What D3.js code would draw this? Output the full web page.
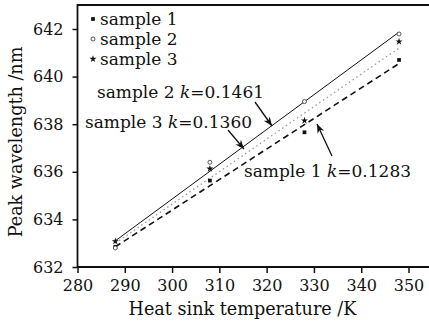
<!DOCTYPE html>
<html>
<head>
<meta charset="utf-8">
<script src="https://cdn.jsdelivr.net/npm/d3@7"></script>
<style>
  body { margin: 0; background: #fff; }
  svg { display: block; }
  svg text { font-family: "DejaVu Serif", serif !important; fill: #111; }
</style>
</head>
<body>
<svg width="429" height="324"></svg>
<script>
var temps = [288, 308, 328, 348]
var sample1 = [632.85, 635.63, 637.66, 640.7]
var sample2 = [632.8, 636.4, 638.95, 641.79]
var sample3 = [633.08, 636.13, 638.15, 641.47]

// fitted lines, read at the ends (288 K, 348 K)
var fitEnds = [288, 348]
var fit1 = [632.85, 640.55]
var fit2 = [633.1, 641.87]
var fit3 = [633.0, 641.2]

var xTicks = [280, 290, 300, 310, 320, 330, 340, 350]
var yTicks = [632, 634, 636, 638, 640, 642]
var legendNames = ['sample 1', 'sample 2', 'sample 3']

var svg = d3.select('svg')
var fs = '16px'
var fsBig = '17.6px'

var x = d3.scaleLinear().domain([280, 350]).range([77.5, 408.5])
var y = d3.scaleLinear().domain([632, 642]).range([267, 29])

// frame: left, top, bottom
svg.append('path')
  .attr('d', 'M429,5H77.5V267H429')
  .style('fill', 'none')
  .style('stroke', '#111')
  .style('stroke-width', 1.8)

var xAxis = svg.append('g')
  .attr('transform', 'translate(0,267)')
  .call(d3.axisBottom(x).tickValues(xTicks).tickSize(6).tickPadding(7))
xAxis.attr('font-family', null).attr('font-size', null)
xAxis.select('.domain').remove()
xAxis.selectAll('line').style('stroke', '#111').style('stroke-width', 1.5)
xAxis.selectAll('text').style('font-size', fs).style('fill', '#111')

var yAxis = svg.append('g')
  .attr('transform', 'translate(77.5,0)')
  .call(d3.axisLeft(y).tickValues(yTicks).tickSize(5).tickPadding(9))
yAxis.attr('font-family', null).attr('font-size', null)
yAxis.select('.domain').remove()
yAxis.selectAll('line').style('stroke', '#111').style('stroke-width', 1.5)
yAxis.selectAll('text').style('font-size', fs).style('fill', '#111')

svg.append('text')
  .attr('x', 242.5)
  .attr('y', 315)
  .attr('text-anchor', 'middle')
  .style('font-size', fsBig)
  .text('Heat sink temperature /K')

svg.append('text')
  .attr('transform', 'translate(22,142) rotate(-90)')
  .attr('text-anchor', 'middle')
  .style('font-size', fsBig)
  .text('Peak wavelength /nm')

// fit lines
var line = d3.line()
  .x((d, i) => x(fitEnds[i]))
  .y((d) => y(d))

svg.append('path').datum(fit3)
  .attr('d', line)
  .style('fill', 'none').style('stroke', '#999').style('stroke-width', 1.3)
  .style('stroke-dasharray', '1.5,3')
svg.append('path').datum(fit1)
  .attr('d', line)
  .style('fill', 'none').style('stroke', '#111').style('stroke-width', 1.6)
  .style('stroke-dasharray', '6,4')
svg.append('path').datum(fit2)
  .attr('d', line)
  .style('fill', 'none').style('stroke', '#111').style('stroke-width', 1)

// markers
var square = d3.symbol().type(d3.symbolSquare).size(14)
var star = d3.symbol().type(d3.symbolStar).size(16)

svg.selectAll('.s1').data(sample1).enter().append('path')
  .attr('class', 's1')
  .attr('transform', (d, i) => 'translate(' + x(temps[i]) + ',' + y(d) + ')')
  .attr('d', square)
  .style('fill', '#111')

svg.selectAll('.s2').data(sample2).enter().append('circle')
  .attr('class', 's2')
  .attr('cx', (d, i) => x(temps[i]))
  .attr('cy', (d) => y(d))
  .attr('r', 2)
  .style('fill', '#fff')
  .style('stroke', '#444')
  .style('stroke-width', 0.9)

svg.selectAll('.s3').data(sample3).enter().append('path')
  .attr('class', 's3')
  .attr('transform', (d, i) => 'translate(' + x(temps[i]) + ',' + y(d) + ')')
  .attr('d', star)
  .style('fill', '#111')

// legend
var legend = svg.append('g').attr('transform', 'translate(93,0)')
var legendY = [19, 39, 59]
legend.append('path').attr('transform', 'translate(0,' + legendY[0] + ')').attr('d', square).style('fill', '#111')
legend.append('circle').attr('cx', 0).attr('cy', legendY[1]).attr('r', 2)
  .style('fill', '#fff').style('stroke', '#444').style('stroke-width', 0.9)
legend.append('path').attr('transform', 'translate(0,' + legendY[2] + ')').attr('d', star).style('fill', '#111')
legend.selectAll('text').data(legendNames).enter().append('text')
  .attr('x', 7)
  .attr('y', (d, i) => legendY[i] + 6)
  .style('font-size', '17px')
  .text((d) => d)

// annotations
var defs = svg.append('defs')
defs.append('marker')
  .attr('id', 'arr')
  .attr('viewBox', '0 0 10 10')
  .attr('refX', 10).attr('refY', 5)
  .attr('markerWidth', 7).attr('markerHeight', 7)
  .attr('orient', 'auto')
  .append('path')
  .attr('d', 'M0,1L10,5L0,9L3,5Z')
  .style('fill', '#111')

var notes = [
  { name: 'sample 2 ', k: '0.1461', tx: 97, ty: 98, from: [255, 102], to: [272, 126] },
  { name: 'sample 3 ', k: '0.1360', tx: 85, ty: 128, from: [228, 130], to: [244, 149] },
  { name: 'sample 1 ', k: '0.1283', tx: 244, ty: 177, from: [332, 156], to: [317, 124] }
]

notes.forEach((n) => {
  var t = svg.append('text')
    .attr('x', n.tx)
    .attr('y', n.ty)
    .style('font-size', '17px')
  t.append('tspan').text(n.name)
  t.append('tspan').style('font-style', 'italic').text('k')
  t.append('tspan').text('=' + n.k)
  svg.append('line')
    .attr('x1', n.from[0]).attr('y1', n.from[1])
    .attr('x2', n.to[0]).attr('y2', n.to[1])
    .style('stroke', '#111').style('stroke-width', 1.3)
    .attr('marker-end', 'url(#arr)')
})
</script>
</body>
</html>
